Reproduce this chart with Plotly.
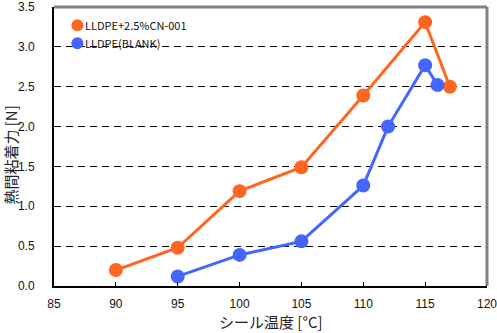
import plotly.graph_objects as go

# Data
temp_cn = [90, 95, 100, 105, 110, 115, 117]
force_cn = [0.20, 0.48, 1.19, 1.49, 2.39, 3.31, 2.50]
temp_blank = [95, 100, 105, 110, 112, 115, 116]
force_blank = [0.12, 0.39, 0.56, 1.26, 2.00, 2.77, 2.52]
names = ["LLDPE+2.5%CN-001", "LLDPE(BLANK)"]
colors = ["#FF6622", "#4466FF"]
x_ticks = [85, 90, 95, 100, 105, 110, 115, 120]
y_ticks = [0.0, 0.5, 1.0, 1.5, 2.0, 2.5, 3.0, 3.5]

FONT = "Noto Sans CJK JP"
NUM_FONT = "Liberation Sans"

fig = go.Figure()
for xs, ys, nm, c in [(temp_cn, force_cn, names[0], colors[0]),
                      (temp_blank, force_blank, names[1], colors[1])]:
    fig.add_trace(go.Scatter(x=xs, y=ys, name=nm, mode="lines+markers",
                             line=dict(color=c, width=3),
                             marker=dict(color=c, size=14),
                             showlegend=False))

# Legend drawn with pixel-sized circles and text annotations
shapes = []
annotations = []
leg_y = [0.935, 0.87]
for i, (nm, c) in enumerate(zip(names, colors)):
    shapes.append(dict(type="circle", xref="paper", yref="paper",
                       xsizemode="pixel", ysizemode="pixel",
                       xanchor=0.054, yanchor=leg_y[i],
                       x0=-6, x1=6, y0=-6, y1=6,
                       fillcolor=c, line=dict(width=0)))
    annotations.append(dict(text=nm, xref="paper", yref="paper",
                            x=0.066, y=leg_y[i], xanchor="left", yanchor="middle",
                            showarrow=False, font=dict(family=FONT, size=11, color="#111")))

# X axis title as annotation below tick labels
annotations.append(dict(text="シール温度 [°C]", xref="paper", yref="paper",
                        x=0.5, y=-0.128, xanchor="center", yanchor="middle",
                        showarrow=False, font=dict(family=FONT, size=15, color="#222")))

# Y axis title as annotation
annotations.append(dict(text="熱間粘着力 [N]", xref="paper", yref="paper",
                        x=-0.1, y=0.47, xanchor="center", yanchor="middle",
                        textangle=-90,
                        showarrow=False, font=dict(family=FONT, size=15, color="#222")))

# Top & right gray border
shapes.append(dict(type="line", xref="paper", yref="paper", x0=0, x1=1, y0=1, y1=1,
                   line=dict(color="#808080", width=3)))
shapes.append(dict(type="line", xref="paper", yref="paper", x0=1, x1=1, y0=0, y1=1,
                   line=dict(color="#808080", width=3)))

fig.update_layout(
    width=497, height=333,
    margin=dict(l=54, r=10, t=7, b=47, autoexpand=False),
    paper_bgcolor="white", plot_bgcolor="white",
    font=dict(family=FONT, size=12, color="#111"),
    shapes=shapes, annotations=annotations,
    xaxis=dict(range=[85, 120], tickvals=x_ticks, ticktext=[str(v) for v in x_ticks],
               automargin=False,
               tickfont=dict(family=NUM_FONT, size=12, color="#111"),
               showgrid=False, zeroline=False,
               showline=True, linecolor="black", linewidth=2,
               ticks="inside", ticklen=4, tickcolor="black", tickwidth=1,
               ticklabelstandoff=6, ticklabeloverflow="allow"),
    yaxis=dict(range=[0, 3.5], tickvals=y_ticks, ticktext=[f"{v:.1f}" for v in y_ticks],
               automargin=False,
               tickfont=dict(family=NUM_FONT, size=12, color="#111"),
               showgrid=True, gridcolor="black", gridwidth=1, griddash="7px,5px",
               zeroline=False,
               showline=True, linecolor="black", linewidth=2,
               ticks="", ticklabelstandoff=15, ticklabeloverflow="allow"),
)

fig.write_html("out.html")
